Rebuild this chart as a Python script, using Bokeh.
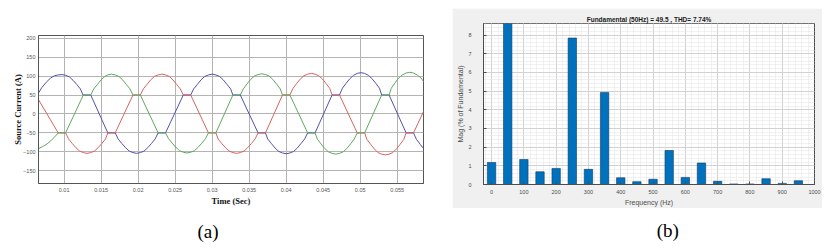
from bokeh.plotting import figure
from bokeh.layouts import row, column
from bokeh.models import FixedTicker, SingleIntervalTicker, Label, Range1d, Spacer
from bokeh.embed import file_html
from bokeh.resources import INLINE

# ---------------- Panel (a): three-phase source currents ----------------
blue_t = [0.0065, 0.0070, 0.0077, 0.0082, 0.0087, 0.0092, 0.0097, 0.0102, 0.0107, 0.0112, 0.0117, 0.0122, 0.01255,
          0.0136, 0.0159, 0.0169,
          0.0173, 0.0178, 0.0183, 0.0188, 0.0193, 0.0198, 0.0203, 0.0208, 0.0213, 0.0218, 0.0223, 0.0227,
          0.0237, 0.0261, 0.0271,
          0.0275, 0.0280, 0.0285, 0.0290, 0.0295, 0.0300, 0.0305, 0.0310, 0.0315, 0.0320, 0.0325, 0.0328,
          0.0338, 0.0362, 0.0372,
          0.0375, 0.0380, 0.0385, 0.0390, 0.0395, 0.0400, 0.0405, 0.0410, 0.0415, 0.0420, 0.0425, 0.0429,
          0.0439, 0.0462, 0.0472,
          0.0476, 0.0481, 0.0486, 0.0491, 0.0496, 0.0501, 0.0506, 0.0511, 0.0516, 0.0521, 0.0526, 0.0529,
          0.0539, 0.0562, 0.0572,
          0.0576, 0.0581, 0.0586]
blue_i = [54, 70, 86, 95, 101, 103, 104, 102, 98, 89, 78, 66, 50,
          50, -50, -50,
          -66, -78, -89, -98, -102, -104, -102, -98, -89, -78, -66, -50,
          -50, 50, 50,
          66, 78, 90, 99, 103, 105, 103, 99, 90, 78, 66, 50,
          50, -50, -50,
          -66, -78, -90, -99, -103, -105, -103, -99, -90, -78, -66, -50,
          -50, 50, 50,
          68, 81, 93, 102, 107, 109, 107, 102, 93, 81, 68, 50,
          50, -50, -50,
          -67, -80, -92]

red_t = [0.0065, 0.0092, 0.0102,
         0.0106, 0.0111, 0.0116, 0.0121, 0.0126, 0.0131, 0.0136, 0.0141, 0.0146, 0.0151, 0.0156, 0.0159,
         0.0169, 0.0193, 0.0203,
         0.0207, 0.0212, 0.0217, 0.0222, 0.0227, 0.0232, 0.0237, 0.0242, 0.0247, 0.0252, 0.0257, 0.0261,
         0.0271, 0.0295, 0.0305,
         0.0308, 0.0313, 0.0318, 0.0323, 0.0328, 0.0333, 0.0338, 0.0343, 0.0348, 0.0353, 0.0358, 0.0362,
         0.0372, 0.0395, 0.0405,
         0.0409, 0.0414, 0.0419, 0.0424, 0.0429, 0.0434, 0.0439, 0.0444, 0.0449, 0.0454, 0.0459, 0.0462,
         0.0472, 0.0496, 0.0506,
         0.0509, 0.0514, 0.0519, 0.0524, 0.0529, 0.0534, 0.0539, 0.0544, 0.0549, 0.0554, 0.0559, 0.0562,
         0.0572, 0.0596]
red_i = [39, -50, -50,
         -66, -78, -89, -98, -102, -104, -102, -98, -89, -78, -66, -50,
         -50, 50, 50,
         66, 78, 90, 99, 103, 105, 103, 99, 90, 78, 66, 50,
         50, -50, -50,
         -66, -78, -89, -98, -102, -104, -102, -98, -89, -78, -66, -50,
         -50, 50, 50,
         67, 80, 92, 101, 105, 107, 105, 101, 92, 80, 67, 50,
         50, -50, -50,
         -67, -80, -92, -102, -106, -108, -106, -102, -92, -80, -67, -50,
         -50, 50]

green_t = [0.0065, 0.0071, 0.0077, 0.0082, 0.0087, 0.0092,
           0.0102, 0.0126, 0.0136,
           0.0140, 0.0145, 0.0150, 0.0155, 0.0159, 0.0164, 0.0169, 0.0174, 0.0179, 0.0184, 0.0189, 0.0193,
           0.0203, 0.0227, 0.0237,
           0.0241, 0.0246, 0.0251, 0.0256, 0.0261, 0.0266, 0.0271, 0.0276, 0.0281, 0.0286, 0.0291, 0.0295,
           0.0305, 0.0328, 0.0338,
           0.0342, 0.0347, 0.0352, 0.0357, 0.0362, 0.0367, 0.0372, 0.0377, 0.0382, 0.0387, 0.0392, 0.0395,
           0.0405, 0.0429, 0.0439,
           0.0442, 0.0447, 0.0452, 0.0457, 0.0462, 0.0467, 0.0472, 0.0477, 0.0482, 0.0487, 0.0492, 0.0496,
           0.0506, 0.0529, 0.0539,
           0.0542, 0.0547, 0.0552, 0.0557, 0.0562, 0.0567, 0.0572, 0.0577, 0.0582, 0.0587]
green_i = [-92, -86, -79, -71, -61, -50,
           -50, 50, 50,
           66, 78, 90, 99, 103, 105, 103, 99, 90, 78, 66, 50,
           50, -50, -50,
           -65, -77, -88, -97, -101, -103, -101, -97, -88, -77, -65, -50,
           -50, 50, 50,
           66, 79, 91, 100, 104, 106, 104, 100, 91, 79, 66, 50,
           50, -50, -50,
           -66, -79, -91, -100, -104, -106, -104, -100, -91, -79, -66, -50,
           -50, 50, 50,
           68, 82, 95, 103, 108, 110, 108, 103, 95, 82]

a_x_ticks = [0.01, 0.015, 0.02, 0.025, 0.03, 0.035, 0.04, 0.045, 0.05, 0.055]
a_x_labels = ["0.01", "0.015", "0.02", "0.025", "0.03", "0.035", "0.04", "0.045", "0.05", "0.055"]
a_y_ticks = [-150, -100, -50, 0, 50, 100, 150, 200]

# ---------------- Panel (b): FFT spectrum ----------------
fft_freq = [0, 50, 100, 150, 200, 250, 300, 350, 400, 450, 500, 550, 600, 650, 700, 750, 800, 850, 900, 950]
fft_mag = [1.18, 100, 1.34, 0.68, 0.86, 7.84, 0.81, 4.93, 0.36, 0.15, 0.28, 1.82, 0.38, 1.15, 0.17, 0.03, 0.03,
           0.31, 0.06, 0.20]
fft_title = "Fundamental (50Hz) = 49.5 , THD= 7.74%"
captions = ["(a)", "(b)"]

SANS = "Liberation Sans"
SERIF = "Liberation Serif"


def caption_fig(width, height, text, cx, cy):
    c = figure(width=width, height=height, output_backend="svg", toolbar_location=None,
               x_range=Range1d(0, width), y_range=Range1d(0, height), min_border=0,
               outline_line_color=None, background_fill_color="white", border_fill_color="white")
    c.axis.visible = False
    c.grid.visible = False
    c.add_layout(Label(x=cx, y=cy, text=text, text_align="center", text_baseline="middle",
                       text_font=SERIF, text_font_size="19px", text_color="black"))
    return c


pa = figure(width=452, height=208, output_backend="svg", toolbar_location=None,
            x_range=Range1d(0.00654, 0.05855), y_range=Range1d(-183.5, 207),
            min_border_left=38, min_border_right=29, min_border_top=35, min_border_bottom=24,
            background_fill_color="white", border_fill_color="white")
pa.line(blue_t, blue_i, line_color="#5252ac", line_width=1)
pa.line(red_t, red_i, line_color="#d86262", line_width=1)
pa.line(green_t, green_i, line_color="#5fa85f", line_width=1)

pa.xaxis.ticker = FixedTicker(ticks=a_x_ticks)
pa.xaxis.major_label_overrides = {t: s for t, s in zip(a_x_ticks, a_x_labels)}
pa.yaxis.ticker = FixedTicker(ticks=a_y_ticks)
for ax in (pa.xaxis[0], pa.yaxis[0]):
    ax.major_label_text_font = SANS
    ax.major_label_text_font_size = "5.5px"
    ax.major_label_text_color = "#555555"
    ax.axis_label_text_font = SERIF
    ax.axis_label_text_font_style = "bold"
    ax.axis_label_text_font_size = "8.5px"
    ax.axis_label_text_color = "#111111"
    ax.axis_line_color = "#555555"
    ax.major_tick_in = 0
    ax.major_tick_out = 0
    ax.minor_tick_in = 0
    ax.minor_tick_out = 0
pa.xaxis.axis_label = "Time (Sec)"
pa.yaxis.axis_label = "Source Current (A)"
pa.xaxis.major_label_standoff = 4
pa.xaxis.axis_label_standoff = 1
pa.yaxis.major_label_standoff = 3
pa.yaxis.axis_label_standoff = -3
pa.grid.grid_line_color = "#b4b4b4"
pa.grid.grid_line_width = 1
pa.outline_line_color = "#555555"

capa = caption_fig(452, 40, captions[0], 199, 17)

pb = figure(width=370, height=200, output_backend="svg", toolbar_location=None,
            x_range=Range1d(-25, 1000), y_range=Range1d(0, 8.62),
            min_border_left=31, min_border_right=8, min_border_top=15, min_border_bottom=24,
            background_fill_color="white", border_fill_color="#f0f0f0", title=fft_title)
pb.title.text_font = SANS
pb.title.text_font_size = "6.5px"
pb.title.text_font_style = "bold"
pb.title.text_color = "#1a1a1a"
pb.title.align = "center"
pb.title.standoff = 2

pb.xaxis.ticker = SingleIntervalTicker(interval=100, num_minor_ticks=5)
pb.yaxis.ticker = SingleIntervalTicker(interval=1, num_minor_ticks=5)
pb.xgrid.grid_line_color = "#d2d2d2"
pb.ygrid.grid_line_color = "#d2d2d2"
pb.xgrid.minor_grid_line_color = "#e2e2e2"
pb.ygrid.minor_grid_line_color = "#e2e2e2"
pb.xgrid.minor_grid_line_dash = "1 1"
pb.ygrid.minor_grid_line_dash = "1 1"
pb.vbar(x=fft_freq, top=fft_mag, bottom=0, width=26, fill_color="#0072BD", line_color="#0d3a63",
        line_width=0.6)
for ax in (pb.xaxis[0], pb.yaxis[0]):
    ax.major_label_text_font = SANS
    ax.major_label_text_font_size = "5.5px"
    ax.major_label_text_color = "#4d4d4d"
    ax.axis_label_text_font = SANS
    ax.axis_label_text_font_style = "normal"
    ax.axis_label_text_font_size = "7px"
    ax.axis_label_text_color = "#4d4d4d"
    ax.axis_line_color = "#4d4d4d"
    ax.major_tick_in = 3
    ax.major_tick_out = 0
    ax.major_tick_line_color = "#4d4d4d"
    ax.minor_tick_in = 0
    ax.minor_tick_out = 0
pb.xaxis.axis_label = "Frequency (Hz)"
pb.yaxis.axis_label = "Mag (% of Fundamental)"
pb.xaxis.major_label_standoff = 5
pb.xaxis.axis_label_standoff = 2
pb.yaxis.major_label_standoff = 12
pb.yaxis.axis_label_standoff = 1
pb.outline_line_color = "#4d4d4d"

capb = caption_fig(370, 40, captions[1], 206, 18)

layout = row(column(pa, capa), column(Spacer(width=370, height=8), pb, capb))
open("out.html", "w").write(file_html(layout, INLINE))
